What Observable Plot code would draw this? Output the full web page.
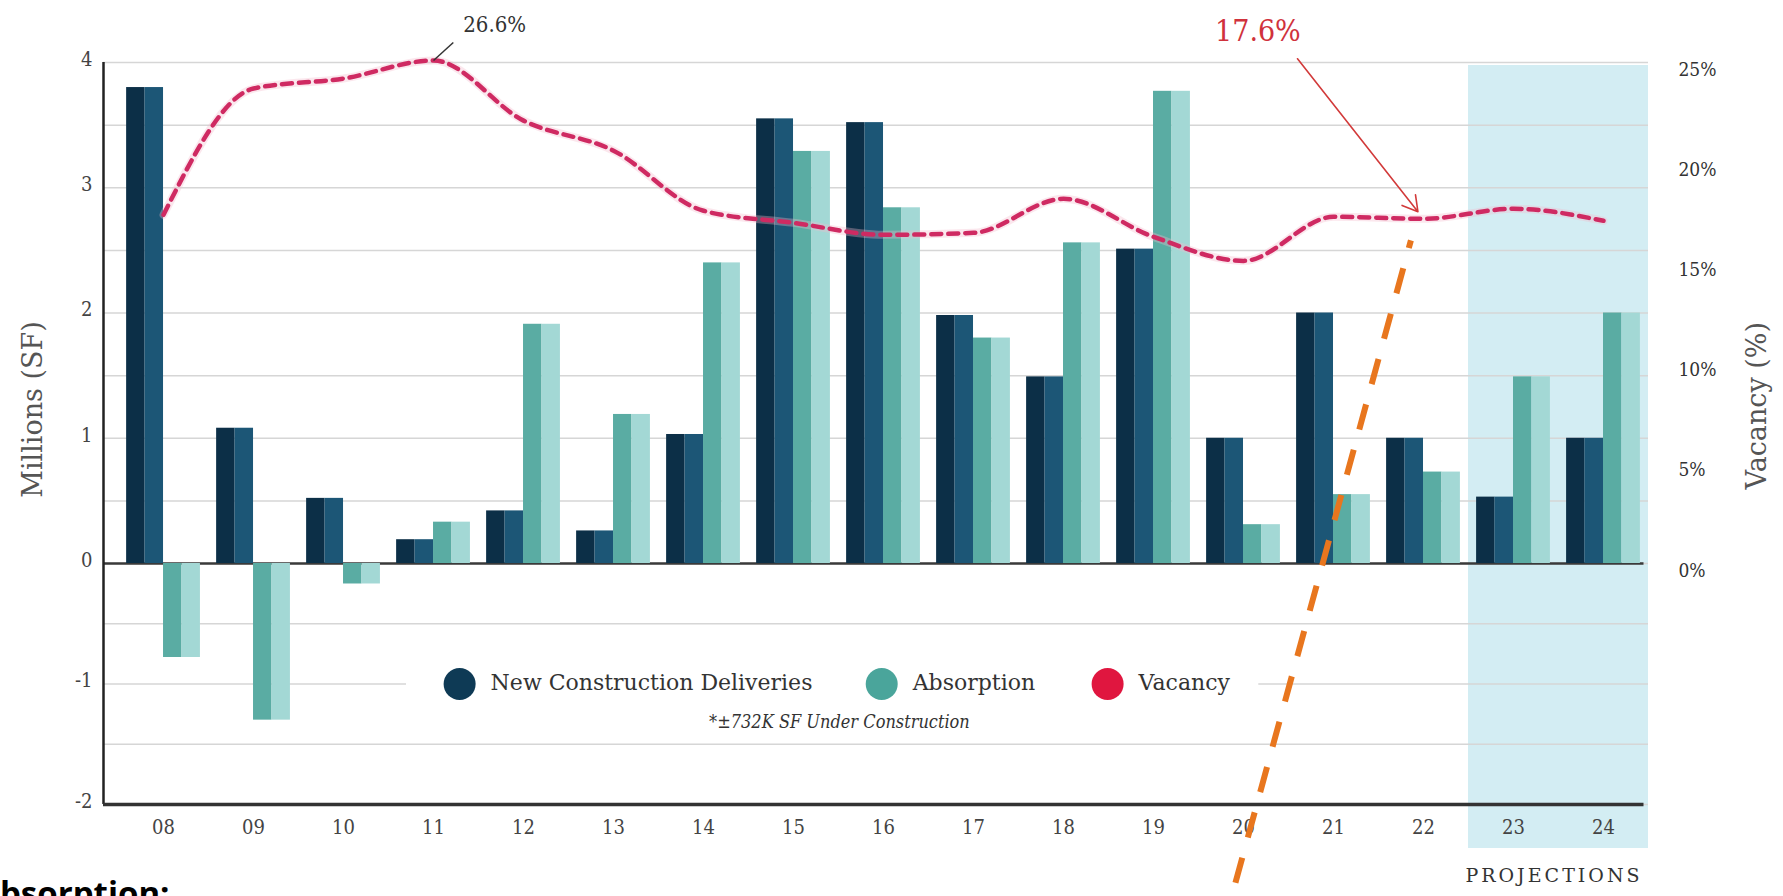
<!DOCTYPE html>
<html>
<head>
<meta charset="utf-8">
<script src="https://cdn.jsdelivr.net/npm/d3@7"></script>
<script src="https://cdn.jsdelivr.net/npm/@observablehq/plot@0.6"></script>
<style>
  html, body { margin: 0; padding: 0; background: #fff; overflow: hidden; }
  #chart svg { display: block; }
</style>
</head>
<body>
<div id="chart"></div>
<script>
// ---- data ----
const years = ["08","09","10","11","12","13","14","15","16","17","18","19","20","21","22","23","24"];
const deliveries = [3.80, 1.08, 0.52, 0.19, 0.42, 0.26, 1.03, 3.55, 3.52, 1.98, 1.49, 2.51, 1.00, 2.00, 1.00, 0.53, 1.00];
const absorption = [-0.78, -1.30, -0.17, 0.33, 1.91, 1.19, 2.40, 3.29, 2.84, 1.80, 2.56, 3.77, 0.31, 0.55, 0.73, 1.49, 2.00];
const vacancy = [17.4, 23.7, 24.2, 25.1, 22.1, 20.6, 17.6, 17.0, 16.4, 16.5, 18.2, 16.3, 15.1, 17.3, 17.2, 17.7, 17.1];
const leftTicks = [-2, -1, 0, 1, 2, 3, 4];
const vacancyTicks = [0, 5, 10, 15, 20, 25];
const legendLabels = ["New Construction Deliveries", "Absorption", "Vacancy"];
const legendColors = ["#0e3a55", "#4aa59b", "#e0163f"];
const footnote = "*±732K SF Under Construction";
const peakNote = "26.6%";
const currentNote = "17.6%";
const projectionLabel = "PROJECTIONS";
const bottomText = "Absorption:";
const leftTitle = "Millions (SF)";
const rightTitle = "Vacancy (%)";

// vacancy (%) -> left-axis units (25% aligns with 4)
const VS = 4 / 25;
const x0 = -0.667, xEnd = 16.5;
const cond = "'DejaVu Serif Condensed', 'DejaVu Serif', serif";
const serif = "'DejaVu Serif', serif";

const rows = years.map((y, i) => ({i, year: y, deliveries: deliveries[i], absorption: absorption[i], vacancy: vacancy[i]}));
const grid = d3.range(-2, 4.01, 0.5);
const BW = 0.41;
const legendX = [3.29, 7.98, 10.49];

const chart = Plot.plot({
  width: 1783,
  height: 896,
  marginLeft: 103,
  marginRight: 135,
  marginTop: 62,
  marginBottom: 92,
  style: {fontFamily: serif, background: "#fff", overflow: "visible"},
  x: {type: "linear", domain: [x0, xEnd], axis: null},
  y: {type: "linear", domain: [-2, 0, 4], range: [804, 563, 62], axis: null},
  marks: [
    // projections band
    Plot.rect([0], {x1: 14.5, x2: xEnd, y1: -2, y2: 4, fill: "#d3edf3", insetTop: 3, insetBottom: -44}),
    // gridlines
    Plot.ruleY(grid, {stroke: "#d6d6d6", strokeWidth: 1.5}),
    // legend backdrop
    Plot.rect([0], {x1: 2.7, x2: 12.17, y1: -0.88, y2: -1.12, fill: "#fff"}),
    // zero line
    Plot.ruleY([0], {x1: x0, x2: 16.45, stroke: "#3a3a3a", strokeWidth: 2.5}),
    // deliveries bars (two-tone)
    Plot.rect(rows, {x1: d => d.i - BW, x2: d => d.i - BW / 2, y1: 0, y2: "deliveries", fill: "#0c2f47"}),
    Plot.rect(rows, {x1: d => d.i - BW / 2, x2: d => d.i, y1: 0, y2: "deliveries", fill: "#1c5676"}),
    // absorption bars (two-tone)
    Plot.rect(rows, {x1: d => d.i, x2: d => d.i + BW / 2, y1: 0, y2: "absorption", fill: "#5aaca3"}),
    Plot.rect(rows, {x1: d => d.i + BW / 2, x2: d => d.i + BW, y1: 0, y2: "absorption", fill: "#a3d8d5"}),
    // vacancy line
    Plot.line(rows, {x: "i", y: d => d.vacancy * VS, stroke: "#f3b9cc", strokeWidth: 8, strokeOpacity: 0.35, curve: "monotone-x"}),
    Plot.line(rows, {x: "i", y: d => d.vacancy * VS, stroke: "#cf2a62", strokeWidth: 4.5, strokeDasharray: "10,7", curve: "monotone-x"}),
    // axes lines
    Plot.ruleX([x0], {y1: -2, y2: 4, stroke: "#222", strokeWidth: 2.5}),
    Plot.ruleY([-2], {x1: x0, x2: 16.45, stroke: "#333", strokeWidth: 3.5}),
    // x tick labels
    Plot.text(years, {x: (d, i) => i, frameAnchor: "bottom", dy: 29, fontSize: 20, fill: "#444", fontFamily: cond}),
    // left tick labels
    Plot.text(leftTicks, {y: d => d, text: d => String(d), frameAnchor: "left", dx: -11, dy: -3, textAnchor: "end", fontSize: 20, fill: "#444", fontFamily: cond}),
    // right tick labels
    Plot.text(vacancyTicks, {y: d => d * VS, text: d => d + "%", frameAnchor: "right", dx: 30, dy: 7, textAnchor: "start", fontSize: 19, fill: "#333", fontFamily: cond}),
    // axis titles
    Plot.text([leftTitle], {x: x0 - 0.778, y: 1.23, rotate: -90, fontSize: 27, fill: "#555"}),
    Plot.text([rightTitle], {x: xEnd + 1.21, y: 1.26, rotate: -90, fontSize: 27, fill: "#555"}),
    // legend
    Plot.dot(legendLabels, {x: (d, i) => legendX[i], y: -1, r: 16, fill: (d, i) => legendColors[i]}),
    Plot.text(legendLabels, {x: (d, i) => legendX[i], y: -1, dx: 31, dy: -1, textAnchor: "start", fontSize: 22, fill: "#333"}),
    Plot.text([footnote], {x: 7.51, y: -1.32, fontStyle: "italic", fontSize: 18, fill: "#333", fontFamily: cond}),
    // annotations
    Plot.link([0], {x1: 3, y1: () => vacancy[3] * VS, x2: 3.22, y2: 4.16, stroke: "#333", strokeWidth: 1.5}),
    Plot.text([peakNote], {x: 3.68, y: 4.3, fontSize: 22, fill: "#333", fontFamily: cond}),
    Plot.text([currentNote], {x: 12.16, y: 4.25, fontSize: 30, fill: "#d0323c", fontFamily: cond}),
    Plot.arrow([0], {x1: 12.6, y1: 4.03, x2: 14, y2: () => vacancy[14] * VS, insetEnd: 9, stroke: "#d23a3a", strokeWidth: 1.6, headLength: 16}),
    // orange dashed overlay
    Plot.link([0], {x1: 13.86, y1: 2.58, x2: 11.87, y2: -2.76, stroke: "#e8761e", strokeWidth: 6, strokeDasharray: "26,21", strokeDashoffset: 18}),
    // projections label
    Plot.text([projectionLabel], {x: 15.45, frameAnchor: "bottom", dy: 77, fontSize: 19, fill: "#333"}),
    // cut-off bottom text
    Plot.text([bottomText], {frameAnchor: "bottom-left", dx: 66, dy: 100, textAnchor: "end", lineAnchor: "bottom", fontSize: 33, fontWeight: "bold", fill: "#000", fontFamily: "'Open Sans', sans-serif"})
  ]
});

d3.select(chart).selectAll("text").filter(function() { return this.textContent === projectionLabel; })
  .style("letter-spacing", "3px");
document.getElementById("chart").appendChild(chart);
</script>
</body>
</html>
